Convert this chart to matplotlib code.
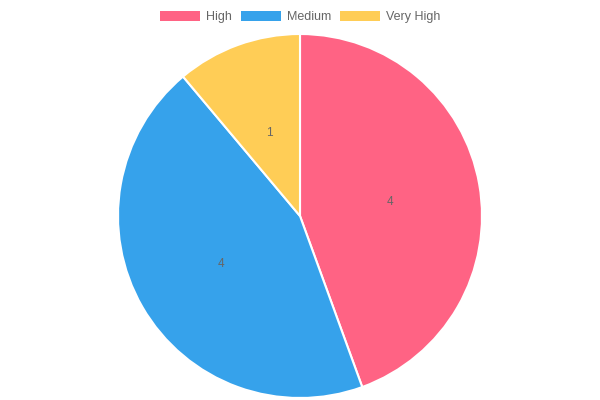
import matplotlib
matplotlib.use("Agg")
import matplotlib.pyplot as plt
from matplotlib.patches import Patch

labels = ['High', 'Medium', 'Very High']
counts = [4, 4, 1]
colors = ['#FF6384', '#36A2EB', '#FFCD56']

fig = plt.figure(figsize=(6, 4), dpi=100)
# pie area: centre (300, 216) px, radius ~182 px
ax = fig.add_axes([118 / 600, 2 / 400, 364 / 600, 364 / 400])

wedges, texts, autotexts = ax.pie(
    counts, colors=colors, startangle=90, counterclock=False,
    labels=None, autopct=lambda p: '%d' % round(p * sum(counts) / 100),
    pctdistance=0.5, radius=1,
    wedgeprops=dict(edgecolor='white', linewidth=1.5),
    textprops=dict(color='#666666', fontsize=8.5, family='Liberation Sans'))
for t in autotexts:
    x, y = t.get_position()
    t.set_position((x, y - 0.012))
ax.set_xlim(-1, 1)
ax.set_ylim(-1, 1)
ax.set_aspect('equal')
ax.axis('off')

handles = [Patch(facecolor=c, edgecolor='white', linewidth=0) for c in colors]
fig.legend(handles, labels, loc='center', bbox_to_anchor=(0.5, 1 - 17 / 400),
           ncol=3, frameon=False, handlelength=3.2, handleheight=0.8,
           handletextpad=0.5, columnspacing=0.7,
           prop=dict(family='Liberation Sans', size=9),
           labelcolor='#666666')

fig.savefig('out.png', dpi=100)
